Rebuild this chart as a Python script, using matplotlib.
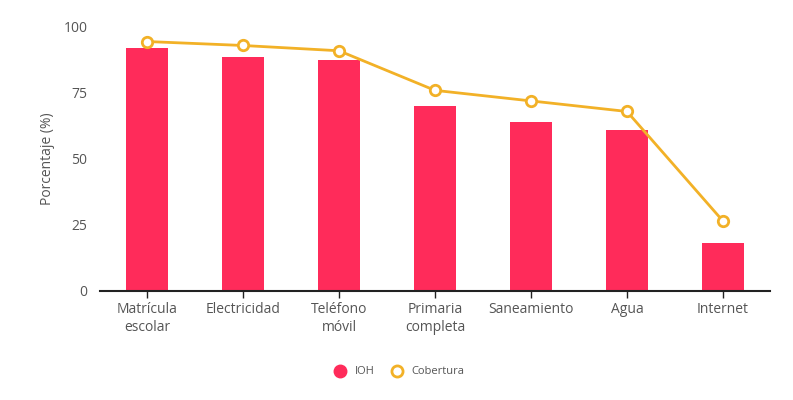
import numpy as np
import matplotlib.pyplot as plt
from matplotlib.lines import Line2D

categorias = ["Matrícula\nescolar", "Electricidad", "Teléfono\nmóvil",
              "Primaria\ncompleta", "Saneamiento", "Agua", "Internet"]
ioh = [92, 88.5, 87.5, 70, 64, 61, 18]
cobertura = [94.5, 93, 91, 76, 72, 68, 26.5]

rojo = "#FF2B5A"
amarillo = "#F2B127"
gris = "#555555"

plt.rcParams['font.family'] = ['Open Sans', 'DejaVu Sans']

fig = plt.figure(figsize=(7.93, 4.0), dpi=100)
ax = fig.add_axes([0.126, 0.2725, 0.845, 0.66])

x = np.arange(len(categorias))
ax.bar(x, ioh, width=0.44, color=rojo, zorder=2)
ax.plot(x, cobertura, color=amarillo, lw=2, marker='o', ms=7.5,
        mfc='white', mec=amarillo, mew=2, zorder=3)

ax.set_xlim(-0.49, 6.49)
ax.set_ylim(0, 100)
ax.set_yticks([0, 25, 50, 75, 100])
ax.set_xticks(x)
ax.set_xticklabels(categorias, fontsize=10, color=gris, linespacing=1.3)
ax.tick_params(axis='y', length=0, pad=9, labelsize=10, labelcolor=gris)
ax.tick_params(axis='x', length=5, width=1, color='#222222', pad=3)

for s in ['top', 'right', 'left']:
    ax.spines[s].set_visible(False)
ax.spines['bottom'].set_color('#222222')
ax.spines['bottom'].set_linewidth(1.5)

ax.set_ylabel("Porcentaje (%)", fontsize=10, color=gris, labelpad=6)

handles = [
    Line2D([], [], marker='o', ls='', ms=9, mfc=rojo, mec=rojo, label='IOH'),
    Line2D([], [], marker='o', ls='', ms=8, mfc='white', mec=amarillo,
           mew=2, label='Cobertura'),
]
fig.legend(handles=handles, loc='center', bbox_to_anchor=(0.5, 0.07),
           ncol=2, frameon=False, fontsize=8, handletextpad=0.3,
           columnspacing=1.0, labelcolor=gris)

fig.savefig("out.png", dpi=100, facecolor='white')
